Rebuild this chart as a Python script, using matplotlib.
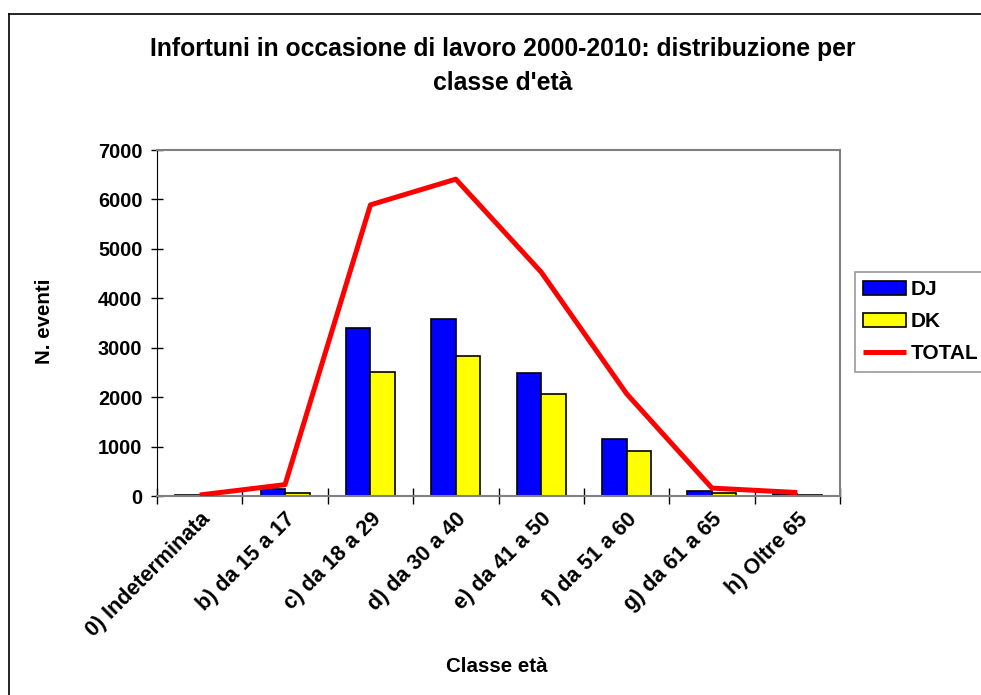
import matplotlib.pyplot as plt
import numpy as np

plt.rcParams['font.family'] = ['Liberation Sans', 'DejaVu Sans']
plt.rcParams['font.weight'] = 'bold'

# Data
categories = ['0) Indeterminata', 'b) da 15 a 17', 'c) da 18 a 29', 'd) da 30 a 40',
              'e) da 41 a 50', 'f) da 51 a 60', 'g) da 61 a 65', 'h) Oltre 65']
dj = [15, 150, 3400, 3580, 2480, 1160, 100, 40]
dk = [5, 70, 2500, 2840, 2060, 920, 55, 25]
total = [20, 230, 5890, 6410, 4530, 2070, 160, 70]

fig = plt.figure(figsize=(9.81, 6.95), dpi=100)
ax = fig.add_axes([157/981, 1 - 496/695, (840 - 157)/981, (496 - 150)/695])

x = np.arange(len(categories))
bar_width = 0.287

b1 = ax.bar(x - bar_width/2, dj, bar_width, color='#0000FF', edgecolor='black', linewidth=1.2, label='DJ', zorder=2)
b2 = ax.bar(x + bar_width/2, dk, bar_width, color='#FFFF00', edgecolor='black', linewidth=1.2, label='DK', zorder=2)
l1, = ax.plot(x, total, color='#FF0000', linewidth=3.6, label='TOTAL', zorder=3, solid_capstyle='butt')

ax.set_xlim(-0.5, len(categories) - 0.5)
ax.set_ylim(0, 7000)
ax.set_yticks(np.arange(0, 7001, 1000))
ax.tick_params(axis='y', direction='inout', length=9, width=1, labelsize=14.3, pad=6)

# ticks between categories, labels at category centres
ax.set_xticks(np.arange(-0.5, len(categories), 1))
ax.set_xticklabels([''] * (len(categories) + 1))
ax.set_xticks(x, minor=True)
ax.set_xticklabels(categories, minor=True, rotation=45, ha='right', rotation_mode='anchor')
ax.tick_params(axis='x', which='major', direction='inout', length=12, width=1)
ax.tick_params(axis='x', which='minor', length=0, labelsize=15.5, pad=9)

for side in ['top', 'right', 'bottom']:
    ax.spines[side].set_color('#808080')
    ax.spines[side].set_linewidth(1.5)
ax.spines['left'].set_color('black')

fig.text(503/981, 1 - 66/695, "Infortuni in occasione di lavoro 2000-2010: distribuzione per\nclasse d'età",
         ha='center', va='center', fontsize=17.8, fontweight='bold', linespacing=1.55)
fig.text(44/981, 1 - 321/695, 'N. eventi', rotation=90, ha='center', va='center', fontsize=14.8, fontweight='bold')
fig.text(497/981, 1 - 667/695, 'Classe età', ha='center', va='center', fontsize=14.8, fontweight='bold')

leg = fig.legend([b1, b2, l1], ['DJ', 'DK', 'TOTAL'], loc='upper left',
                 bbox_to_anchor=(855/981, 1 - 272/695), fontsize=15,
                 frameon=True, fancybox=False, edgecolor='#808080', handlelength=2.07,
                 handletextpad=0.2, borderpad=0.4, labelspacing=0.62, borderaxespad=0)
leg.get_frame().set_linewidth(1.2)

# outer chart border (top and left)
fig.add_artist(plt.Line2D([9/981, 9/981], [0, 1 - 14/695], color='black', linewidth=1.2))
fig.add_artist(plt.Line2D([9/981, 1], [1 - 14/695, 1 - 14/695], color='black', linewidth=1.2))

fig.savefig('out.png', dpi=100)
